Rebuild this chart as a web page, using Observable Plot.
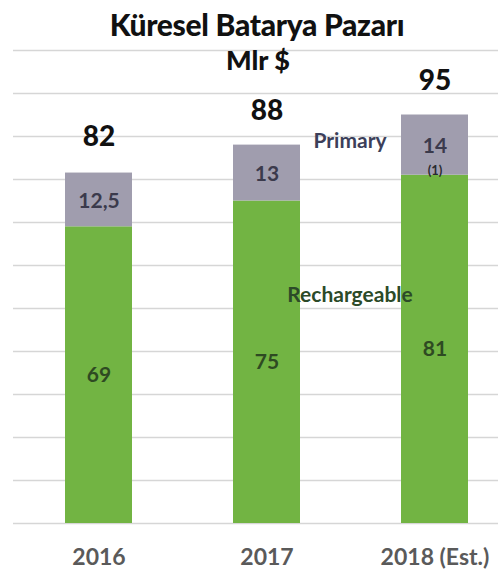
<!DOCTYPE html>
<html>
<head>
<meta charset="utf-8">
<script src="https://cdn.jsdelivr.net/npm/d3@7"></script>
<script src="https://cdn.jsdelivr.net/npm/@observablehq/plot@0.6"></script>
<style>
  html, body { margin: 0; padding: 0; background: #fff; }
  #wrap { position: relative; width: 498px; height: 575px; overflow: hidden; font-family: Lato, "Open Sans", sans-serif; }
  #title { position: absolute; left: 0; width: 514px; top: 6px; text-align: center; font-weight: 900; font-size: 30px; line-height: 36px; color: #111; letter-spacing: -0.3px; }
  #subtitle { position: absolute; left: 0; width: 516px; top: 44px; text-align: center; font-weight: 900; font-size: 27px; line-height: 32px; color: #111; }
  #chart { position: absolute; left: 0; top: 42px; }
</style>
</head>
<body>
<div id="wrap">
  <div id="chart"></div>
  <div id="title">Küresel Batarya Pazarı</div>
  <div id="subtitle">Mlr $</div>
</div>
<script>
const years = ["2016", "2017", "2018 (Est.)"];
const rechargeable = [69, 75, 81];
const primary = [12.5, 13, 14];
const totals = [82, 88, 95];
const rechargeableLabels = ["69", "75", "81"];
const primaryLabels = ["12,5", "13", "14"];
const notes = ["", "", "(1)"];
const gridValues = [0, 10, 20, 30, 40, 50, 60, 70, 80, 90, 100, 110];
const seriesNames = ["Rechargeable", "Primary"];
const seriesColors = ["#72b443", "#a09dae"];

const rows = [];
years.forEach((y, i) => {
  rows.push({year: y, type: "Rechargeable", value: rechargeable[i], mid: rechargeable[i] / 2, label: rechargeableLabels[i]});
  rows.push({year: y, type: "Primary", value: primary[i], mid: rechargeable[i] + primary[i] / 2, label: primaryLabels[i]});
});
const totalRows = years.map((y, i) => ({year: y, total: totals[i], note: notes[i], mid: rechargeable[i] + primary[i] / 2}));

const chart = Plot.plot({
  width: 498,
  height: 533,
  marginLeft: 13,
  marginRight: 0,
  marginTop: 8,
  marginBottom: 52,
  style: {fontFamily: "Lato, 'Open Sans', sans-serif", background: "transparent"},
  x: {domain: years, range: [15, 519], paddingInner: 0.6, paddingOuter: 0.3, align: 0.5, label: null},
  y: {domain: [0, 110], axis: null},
  color: {domain: seriesNames, range: seriesColors},
  marks: [
    Plot.ruleY(gridValues, {stroke: "#d6d6d6", strokeWidth: 1.6}),
    Plot.barY(rows, Plot.stackY({x: "year", y: "value", fill: "type", order: seriesNames})),
    Plot.text(rows.filter(d => d.type === "Rechargeable"), {x: "year", y: "mid", text: "label", fontSize: 21, fontWeight: "bold", fill: "#2e4a22"}),
    Plot.text(rows.filter(d => d.type === "Primary"), {x: "year", y: "mid", text: "label", fontSize: 21, fontWeight: "bold", fill: "#3b3a4c", dy: 1}),
    Plot.text(totalRows, {x: "year", y: "mid", text: "note", fontSize: 13, fontWeight: "bold", fill: "#2a2a30", dy: 26}),
    Plot.text(totalRows, {x: "year", y: "total", text: d => String(d.total), fontSize: 28, fontWeight: 900, fill: "#111", dy: -34}),
    Plot.text(["Primary"], {x: () => years[1], y: () => 88.8, text: d => d, dx: 83, fontSize: 21, fontWeight: "bold", fill: "#3c3f5a"}),
    Plot.text(["Rechargeable"], {x: () => years[1], y: () => 53, text: d => d, dx: 83, fontSize: 21, fontWeight: "bold", fill: "#2c4a28"}),
    Plot.axisX({tickSize: 0, tickPadding: 25, fontSize: 23, fontWeight: "bold", color: "#5a5a5a"})
  ]
});
document.getElementById("chart").appendChild(chart);
</script>
</body>
</html>
